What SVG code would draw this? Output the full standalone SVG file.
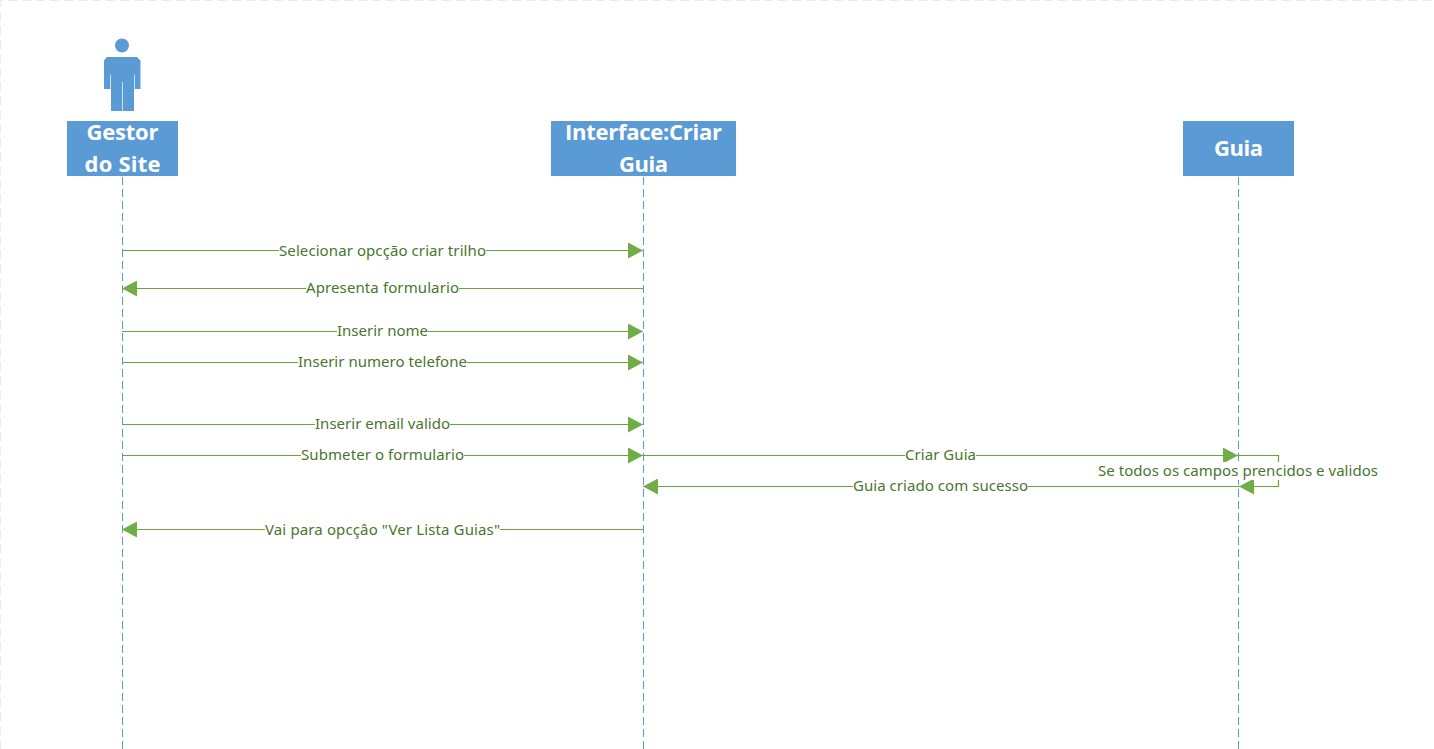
<svg xmlns="http://www.w3.org/2000/svg" width="1434" height="749" viewBox="0 0 1434 749">
<style>
.head{fill:#5b9bd5}
.ht{font:700 22px "Open Sans","Noto Sans",sans-serif;fill:#fff;text-anchor:middle}
.life{stroke:#5b9bd5;stroke-width:1;stroke-dasharray:8 4;fill:none}
.msg{stroke:#6ba43f;stroke-width:1.2;fill:none}
.lab{font:15px "Noto Sans","Open Sans",sans-serif;fill:#48762d;text-anchor:middle}
.bg{fill:#fff}
.gap{stroke:#cfe0f1;stroke-width:1;fill:none}
</style>
<defs>
<marker id="a" markerUnits="userSpaceOnUse" markerWidth="15" markerHeight="16" refX="15" refY="8" orient="auto"><path d="M0 0L15 8L0 16Z" fill="#70ad47"/></marker>
</defs>
<rect width="1434" height="749" fill="#fff"/>
<path d="M0.500 749V0.500H1434" fill="none" stroke="#ebebeb" stroke-dasharray="9 5"/>
<g id="connectors">
<path class="life" d="M122.500 177V749"/>
<path class="life" d="M643.500 177V749"/>
<path class="life" d="M1238.500 177V749"/>
<path class="msg" marker-end="url(#a)" d="M122 250.500H643"/>
<path class="msg" marker-end="url(#a)" d="M643 288.500H122"/>
<path class="msg" marker-end="url(#a)" d="M122 331.500H643"/>
<path class="msg" marker-end="url(#a)" d="M122 362.500H643"/>
<path class="msg" marker-end="url(#a)" d="M122 424.500H643"/>
<path class="msg" marker-end="url(#a)" d="M122 455.500H643"/>
<path class="msg" marker-end="url(#a)" d="M643 455.500H1238"/>
<path class="msg" d="M1238 455.500H1278.500V486.500H1238"/>
<path class="msg" marker-end="url(#a)" d="M1278 486.500H1239"/>
<path class="msg" marker-end="url(#a)" d="M1238 486.500H643"/>
<path class="msg" marker-end="url(#a)" d="M643 529.500H122"/>
<rect class="bg" x="279" y="241" width="207" height="19"/><text class="lab" x="382.500" y="256" textLength="207">Selecionar opcção criar trilho</text>
<rect class="bg" x="306" y="279" width="153" height="19"/><text class="lab" x="382.500" y="293" textLength="153">Apresenta formulario</text>
<rect class="bg" x="337" y="322" width="91" height="19"/><text class="lab" x="382.500" y="336" textLength="91">Inserir nome</text>
<rect class="bg" x="298" y="353" width="169" height="19"/><text class="lab" x="382.500" y="367" textLength="169">Inserir numero telefone</text>
<rect class="bg" x="315" y="415" width="135" height="19"/><text class="lab" x="382.500" y="429" textLength="135">Inserir email valido</text>
<rect class="bg" x="301" y="446" width="163" height="19"/><text class="lab" x="382.500" y="460" textLength="163">Submeter o formulario</text>
<rect class="bg" x="905" y="446" width="71" height="19"/><text class="lab" x="940.500" y="460" textLength="71">Criar Guia</text>
<rect class="bg" x="1098" y="462" width="280" height="18"/><text class="lab" x="1238" y="476" textLength="280">Se todos os campos prencidos e validos</text>
<rect class="bg" x="853" y="477" width="175" height="19"/><text class="lab" x="940.500" y="491" textLength="175">Guia criado com sucesso</text>
<rect class="bg" x="265" y="520" width="235" height="19"/><text class="lab" x="382.500" y="535" textLength="235">Vai para opcçâo "Ver Lista Guias"</text>
</g>
<g id="gestor">
<circle cx="122" cy="45.500" r="7" class="head"/>
<path class="head" d="M107 57H137L140.500 60.500V89H134V111H111V89H104V60.500Z"/>
<path class="gap" d="M110.500 75V89M134.500 75V89M122.500 82V111"/>
<rect class="head" x="67" y="121" width="111" height="55"/>
<text class="ht" x="122.500" y="140" textLength="72">Gestor</text>
<text class="ht" x="122.500" y="172" textLength="76">do Site</text>
</g>
<g id="interface">
<rect class="head" x="551" y="121" width="185" height="55"/>
<text class="ht" x="643.500" y="140" textLength="157">Interface:Criar</text>
<text class="ht" x="643.500" y="172" textLength="49">Guia</text>
</g>
<g id="guia">
<rect class="head" x="1183" y="121" width="111" height="55"/>
<text class="ht" x="1238.500" y="156" textLength="49">Guia</text>
</g>
</svg>
